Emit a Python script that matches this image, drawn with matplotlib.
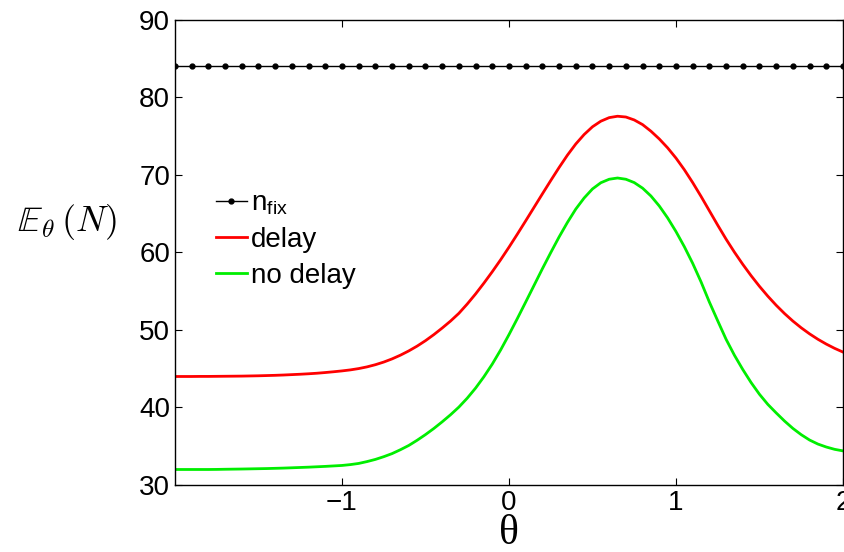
import numpy as np
import matplotlib
matplotlib.use("Agg")
import matplotlib.pyplot as plt

plt.rcParams['font.family'] = ['Liberation Sans', 'DejaVu Sans']
plt.rcParams['mathtext.fontset'] = 'custom'
plt.rcParams['mathtext.rm'] = 'Liberation Sans'
plt.rcParams['mathtext.it'] = 'Liberation Sans:italic'

# valores
theta_fix = np.linspace(-2, 2, 41)
n_fix = [84.1] * 41

theta = np.linspace(-2, 2, 81)
delay = [44.0, 44.0, 44.0, 44.01, 44.01, 44.02, 44.03, 44.04, 44.05, 44.07,
         44.09, 44.12, 44.15, 44.19, 44.24, 44.29, 44.35, 44.42, 44.51, 44.61,
         44.72, 44.85, 45.02, 45.24, 45.52, 45.86, 46.27, 46.75, 47.30, 47.92,
         48.62, 49.40, 50.25, 51.15, 52.15, 53.35, 54.65, 56.05, 57.52, 59.06,
         60.68, 62.36, 64.08, 65.82, 67.56, 69.28, 70.96, 72.56, 74.0, 75.22,
         76.22, 76.94, 77.40, 77.58, 77.48, 77.10, 76.50, 75.65, 74.65, 73.50,
         72.18, 70.68, 69.02, 67.24, 65.38, 63.52, 61.72, 60.04, 58.47, 57.00,
         55.63, 54.36, 53.19, 52.12, 51.15, 50.28, 49.50, 48.80, 48.18, 47.63,
         47.15]
no_delay = [32.0, 32.0, 32.0, 32.0, 32.0, 32.01, 32.03, 32.045, 32.06, 32.08,
            32.1, 32.12, 32.15, 32.18, 32.22, 32.26, 32.3, 32.35, 32.4, 32.46,
            32.52, 32.63, 32.78, 33.02, 33.3, 33.65, 34.05, 34.55, 35.1, 35.77,
            36.5, 37.29, 38.15, 39.06, 40.05, 41.2, 42.5, 43.97, 45.6, 47.42,
            49.4, 51.47, 53.6, 55.75, 57.9, 59.98, 62.0, 63.88, 65.6, 67.03,
            68.2, 69.0, 69.45, 69.61, 69.45, 69.02, 68.3, 67.29, 66.0, 64.46,
            62.7, 60.75, 58.6, 56.21, 53.6, 51.18, 48.8, 46.74, 44.9, 43.21,
            41.7, 40.4, 39.3, 38.25, 37.3, 36.49, 35.8, 35.28, 34.9, 34.6,
            34.4]

fig = plt.figure(figsize=(8.44, 5.52), dpi=100)
ax = fig.add_axes([0.2073, 0.1214, 0.7915, 0.8424])

ax.plot(theta_fix, n_fix, color='black', lw=1.0, marker='o', markersize=3.5, label=r'n$_{\rm fix}$')
ax.plot(theta, delay, color='#ff0000', lw=2.0, label='delay')
ax.plot(theta, no_delay, color='#00ee00', lw=2.0, label='no delay')

ax.set_xlim(-2, 2)
ax.set_ylim(30, 90)
ax.set_xticks([-1, 0, 1, 2])
ax.set_xticklabels(['\u22121', '0', '1', '2'])
ax.set_yticks([30, 40, 50, 60, 70, 80, 90])
ax.tick_params(direction='in', top=True, right=True, length=5, labelsize=20, width=0.8)
for s in ax.spines.values():
    s.set_linewidth(1.0)

ax.set_xlabel('\u03b8', fontsize=30, family='Liberation Serif', labelpad=-1)
ax.set_ylabel(r'$\mathbb{E}_{\theta}\,(N)$', fontsize=26, rotation=0,
              math_fontfamily='cm', va='center', ha='center')
ax.yaxis.set_label_coords(-0.162, 0.566)

ax.legend(loc='upper left', bbox_to_anchor=(0.045, 0.657), frameon=False,
          fontsize=20, handlelength=1.1, handletextpad=0.15, labelspacing=0.35,
          numpoints=1, borderaxespad=0)

fig.savefig('out.png', dpi=100)
